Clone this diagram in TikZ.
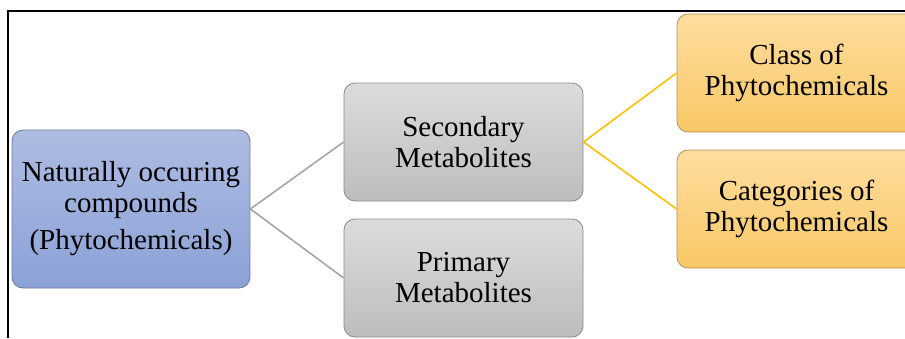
\documentclass[tikz,border=0pt]{standalone}
\usepackage{fontspec}
\setmainfont{Liberation Serif}
\definecolor{bluetop}{HTML}{AEBCE2}
\definecolor{bluebot}{HTML}{8BA2D7}
\definecolor{blueedge}{HTML}{6C7A9A}
\definecolor{graytop}{HTML}{DCDCDC}
\definecolor{graybot}{HTML}{BDBDBD}
\definecolor{grayedge}{HTML}{8A8A8A}
\definecolor{orangetop}{HTML}{FFDDA0}
\definecolor{orangebot}{HTML}{F8C865}
\definecolor{orangeedge}{HTML}{B0925A}
\definecolor{grayline}{HTML}{A6A6A6}
\definecolor{yellowline}{HTML}{FFC000}
\tikzset{
  box/.style={rectangle, rounded corners=11pt, align=center, line width=0.8pt,
    font=\rmfamily\fontsize{29}{31}\selectfont, inner sep=0pt},
  bluebox/.style={box, draw=blueedge, top color=bluetop, bottom color=bluebot,
    minimum width=238pt, minimum height=158pt},
  graybox/.style={box, draw=grayedge, top color=graytop, bottom color=graybot,
    minimum width=239pt, minimum height=118pt},
  orangebox/.style={box, draw=orangeedge, top color=orangetop, bottom color=orangebot,
    minimum width=239pt, minimum height=118pt},
  grayconn/.style={draw=grayline, line width=1.6pt},
  yellowconn/.style={draw=yellowline, line width=1.6pt},
  frame/.style={draw=black, line width=1.4pt}
}
\begin{document}
\begin{tikzpicture}[x=1pt,y=-1pt]
\useasboundingbox (0,0) rectangle (905,338);
\clip (0,0) rectangle (905,338);
\fill[white] (0,0) rectangle (905,338);
\coordinate (fa) at (8,338);
\coordinate (fb) at (8,11);
\coordinate (fc) at (906,11);
\draw[frame] (fa) -- (fb) -- (fc);
\node[bluebox] (nat) at (131,209) {Naturally occuring\\compounds\\[6pt](Phytochemicals)};
\node[graybox] (sec) at (463.5,142) {Secondary\\Metabolites};
\node[graybox] (pri) at (463.5,278) {Primary\\Metabolites};
\node[orangebox] (cls) at (796.5,73) {Class of\\Phytochemicals};
\node[orangebox] (cat) at (796.5,209) {Categories of\\Phytochemicals};
\draw[grayconn] (nat.east) -- (sec.west);
\draw[grayconn] (nat.east) -- (pri.west);
\draw[yellowconn] (sec.east) -- (cls.west);
\draw[yellowconn] (sec.east) -- (cat.west);
\end{tikzpicture}
\end{document}
